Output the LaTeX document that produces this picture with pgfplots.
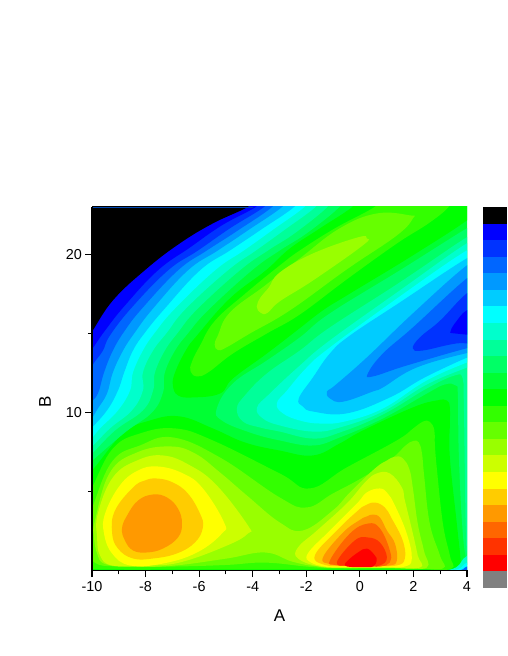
\documentclass[border=0pt]{standalone}
\usepackage{fontspec}
\setmainfont{Liberation Sans}
\usepackage{pgfplots}
\pgfplotsset{compat=1.18}
\definecolor{kK}{HTML}{000000}
\definecolor{bA}{HTML}{0000FF}
\definecolor{bB}{HTML}{0033FF}
\definecolor{bC}{HTML}{0066FF}
\definecolor{bD}{HTML}{0099FF}
\definecolor{bE}{HTML}{00CCFF}
\definecolor{cA}{HTML}{00FFFF}
\definecolor{cB}{HTML}{00FFCC}
\definecolor{cC}{HTML}{00FF99}
\definecolor{cD}{HTML}{00FF66}
\definecolor{cE}{HTML}{00FF33}
\definecolor{gA}{HTML}{00FF00}
\definecolor{gB}{HTML}{33FF00}
\definecolor{gC}{HTML}{66FF00}
\definecolor{gD}{HTML}{99FF00}
\definecolor{gE}{HTML}{CCFF00}
\definecolor{yA}{HTML}{FFFF00}
\definecolor{yB}{HTML}{FFCC00}
\definecolor{yC}{HTML}{FF9900}
\definecolor{yD}{HTML}{FF6600}
\definecolor{yE}{HTML}{FF3300}
\definecolor{rA}{HTML}{FF0000}
\definecolor{nG}{HTML}{808080}
\newcommand\R[2]{\addplot[fill=#1,draw=none,smooth cycle,tension=0.7] coordinates {#2};}
\newcommand\B[3]{\addplot[fill=#1,draw=none] coordinates {(0,#2)(1,#2)(1,#3)(0,#3)};}
\begin{document}
\begin{tikzpicture}
\path[use as bounding box] (0,0) rectangle (507pt,656pt);
\begin{axis}[
  at={(92pt,85.5pt)},anchor=south west,scale only axis,width=375pt,height=363.5pt,
  xmin=-10,xmax=4,ymin=0,ymax=23,
  axis lines=left,axis line style={-,line width=1.2pt,black},
  axis on top,tick align=outside,
  xtick={-10,-8,-6,-4,-2,0,2,4},xticklabels={-10,-8,-6,-4,-2,0,2,4},
  minor xtick={-9,-7,-5,-3,-1,1,3},
  ytick={10,20},yticklabels={10,20},minor ytick={5,15},
  major tick length=6.5pt,minor tick length=4pt,
  tick style={line width=1.1pt,black},
  tick label style={font=\fontsize{14.4}{16}\selectfont},
  xticklabel style={yshift=-1pt},
  xlabel={A},ylabel={B},
  label style={font=\fontsize{17}{20}\selectfont},
  xlabel style={at={(axis description cs:0.5,0)},anchor=center,yshift=-45pt},
  ylabel style={at={(axis description cs:0,0.465)},anchor=center,rotate=0,yshift=47pt},
]
% base level
\addplot[fill=cE,draw=none] coordinates {(-10.5,-0.5)(4.5,-0.5)(4.5,23.5)(-10.5,23.5)};
% upper ridge
\R{gA}{(-0.22,23.1)(-1.49,21.65)(-2.61,20.38)(-3.51,18.99)(-4.85,17.22)(-6.08,14.87)(-6.50,13.92)(-6.90,12.53)(-6.98,11.71)(-6.79,11.08)(-6.23,10.95)(-5.22,11.20)(-4.74,12.15)(-3.47,13.73)(-2.35,15.19)(-1.38,16.46)(-0.49,17.40)(1.98,19.94)(4.10,22.28)(4.48,23.1)(4.48,23.7)(-0.22,23.7)}
\R{gB}{(0.63,23.1)(-0.93,21.65)(-2.24,20.25)(-2.99,19.30)(-4.29,17.50)(-5.41,15.80)(-5.97,14.22)(-6.27,13.2)(-6.32,12.6)(-6.08,12.28)(-5.65,12.55)(-4.74,13.73)(-3.47,15.0)(-2.24,16.20)(-0.49,18.42)(1.38,20.69)(2.61,22.02)(3.36,23.1)(3.36,23.7)(0.63,23.7)}
\R{gC}{(1.98,22.28)(1.87,22.47)(0.63,22.59)(-0.75,21.65)(-2.24,19.75)(-3.54,18.03)(-4.85,16.33)(-5.30,14.87)(-5.42,14.3)(-5.3,13.95)(-5.0,14.1)(-4.10,15.0)(-2.61,16.46)(-0.49,19.05)(1.38,21.20)}
\R{gD}{(-3.45,16.3)(-3.7,16.3)(-3.85,16.7)(-3.7,17.3)(-3.4,17.9)(-2.99,18.86)(-1.75,20.06)(-0.07,21.08)(0.26,21.01)(0.11,20.57)(-1.75,18.35)(-2.99,17.03)}
% lower hills
\R{gA}{(-10.45,5.82)(-10.0,6.33)(-8.84,8.67)(-7.84,9.49)(-6.72,9.75)(-5.49,8.99)(-4.29,8.10)(-2.99,7.59)(-1.75,7.28)(-0.75,8.04)(0.11,8.86)(1.98,10.32)(2.87,10.76)(3.25,10.76)(3.36,10.32)(3.36,9.30)(3.36,7.15)(3.62,2.97)(3.77,0.51)(3.75,-0.2)(3,-0.3)(1,-0.3)(-1,-0.3)(-3,-0.3)(-5,-0.3)(-7,-0.3)(-9,-0.3)(-10.4,-0.3)(-10.5,1)(-10.5,3)}
\R{gB}{(-10.15,4.75)(-9.96,5.38)(-9.22,7.72)(-8.21,8.67)(-6.90,8.99)(-5.49,8.23)(-2.99,6.14)(-1.87,5.19)(-0.49,6.52)(1.38,8.23)(2.0,9.0)(2.35,9.42)(2.6,9.42)(2.78,8.9)(2.8,8.0)(2.87,6.52)(3.10,2.97)(3.36,0.95)(3.43,0.13)(2.5,0.07)(1,0.07)(-1,0.07)(-3,0.07)(-5,0.07)(-7,0.07)(-9,0.07)(-10.15,0.2)(-10.3,1)(-10.3,3)}
\R{gC}{(-10.04,3.29)(-9.89,4.43)(-9.22,6.96)(-8.21,7.91)(-6.98,8.42)(-5.22,7.15)(-2.99,4.62)(-1.98,3.99)(-1.01,4.87)(0.11,5.89)(1.2,7.1)(1.7,7.9)(2.0,8.2)(2.2,8.1)(2.32,7.4)(2.4,6.0)(2.61,2.97)(2.99,0.95)(3.10,0.13)(2,0.15)(1,0.15)(-1,0.15)(-2,0.25)(-3.54,0.5)(-5,0.35)(-7,0.25)(-9,0.25)(-9.9,0.5)(-10.1,1.5)}
\R{gD}{(-9.81,1.08)(-9.93,2.22)(-9.89,3.16)(-9.33,6.2)(-8.32,7.47)(-7.09,7.85)(-6.16,7.41)(-5.22,6.20)(-4.22,4.75)(-2.99,3.04)(-2.13,2.53)(-1.01,3.80)(-0.37,4.94)(0.56,6.45)(1.0,6.95)(1.3,7.2)(1.6,7.1)(1.85,6.4)(1.98,5.2)(2.16,2.97)(2.39,1.27)(2.50,0.19)(1.5,0.2)(0,0.2)(-1.5,0.25)(-2.5,0.55)(-3.54,1.14)(-5.0,0.75)(-7,0.3)(-8.5,0.25)(-9.5,0.4)}
\R{gE}{(-7.35,7.28)(-6.34,6.65)(-5.34,5.38)(-4.18,2.85)(-4.18,2.34)(-4.96,1.58)(-6.72,0.51)(-8.02,0.32)(-9.25,0.32)(-9.7,0.95)(-9.81,2.09)(-9.78,3.61)(-9.22,5.89)(-8.32,6.96)}
\R{yA}{(-7.54,6.58)(-6.60,6.14)(-5.86,5.19)(-5.07,3.04)(-5.15,2.34)(-6.08,1.14)(-7.35,0.44)(-8.58,0.32)(-9.25,1.08)(-9.55,2.34)(-9.51,3.61)(-8.96,5.38)(-8.28,6.33)}
\R{yB}{(-7.57,5.82)(-6.98,5.57)(-6.42,4.87)(-5.97,3.61)(-5.86,2.72)(-6.16,1.77)(-6.83,1.08)(-7.72,0.76)(-8.47,0.76)(-9.03,1.39)(-9.25,2.40)(-9.14,3.80)(-8.47,5.25)(-8.02,5.70)}
\R{yC}{(-7.72,4.81)(-7.20,4.62)(-6.79,3.92)(-6.64,2.97)(-6.79,2.09)(-7.35,1.39)(-7.95,1.14)(-8.47,1.27)(-8.77,1.90)(-8.88,2.66)(-8.69,3.48)(-8.28,4.43)}
\R{gE}{(-2.31,1.46)(-1.60,2.53)(-0.49,4.24)(0.19,5.57)(0.63,6.14)(1.12,6.14)(1.57,5.25)(1.68,4.43)(1.98,2.34)(2.16,0.95)(2.24,0.19)(1,0.17)(-0.5,0.17)(-1.5,0.25)(-2.31,0.76)}
\R{yA}{(-1.94,1.08)(-1.12,2.53)(-0.11,4.24)(0.26,4.94)(0.75,5.19)(1.04,4.87)(1.31,4.11)(1.75,2.34)(1.94,0.76)(1.68,0.25)(1,0.22)(0,0.22)(-1,0.22)(-1.31,0.25)(-1.83,0.51)}
\R{yB}{(-1.68,0.95)(-0.86,2.53)(-0.1,3.75)(0.19,4.11)(0.56,4.30)(0.93,3.99)(1.19,3.29)(1.60,1.90)(1.68,0.76)(1.38,0.32)(0.5,0.28)(-0.5,0.28)(-1.3,0.35)}
\R{yC}{(-1.38,0.82)(-0.63,2.40)(0.0,3.2)(0.26,3.42)(0.49,3.54)(0.75,3.35)(1.01,2.53)(1.31,1.71)(1.38,0.63)(1.12,0.32)(0.4,0.3)(-0.5,0.3)(-1.1,0.4)}
\R{yD}{(-1.12,0.63)(-0.37,2.34)(0.30,2.97)(0.75,2.66)(1.12,1.27)(1.12,0.51)(0.75,0.25)(0.2,0.28)(-0.5,0.3)(-0.9,0.35)}
\R{yE}{(-0.86,0.51)(-0.19,1.90)(0.30,2.09)(0.75,1.77)(1.01,0.82)(0.75,0.32)(0.2,0.3)(-0.4,0.3)}
\R{rA}{(-0.56,0.32)(-0.45,0.63)(-0.07,1.14)(0.26,1.39)(0.56,0.95)(0.63,0.63)(0.49,0.25)(0.1,0.22)(-0.3,0.22)}
% upper-left lows
\R{cD}{(-0.71,23.1)(-1.94,21.39)(-2.99,20.25)(-4.03,18.99)(-5.67,16.46)(-6.42,15.0)(-6.90,13.92)(-7.28,12.53)(-7.35,11.27)(-7.76,10.0)(-8.77,8.73)(-10.07,6.84)(-10.45,6.33)(-10.45,23.7)(-0.71,23.7)}
\R{cC}{(-1.16,23.1)(-2.39,21.39)(-3.43,20.25)(-4.48,18.99)(-6.08,16.52)(-6.79,15.06)(-7.28,13.92)(-7.65,12.53)(-7.72,11.39)(-8.10,10.13)(-9.14,8.86)(-10.07,7.28)(-10.45,6.84)(-10.45,23.7)(-1.16,23.7)}
\R{cB}{(-1.60,23.1)(-2.84,21.52)(-3.88,20.25)(-4.93,18.99)(-6.49,16.58)(-7.20,15.06)(-7.72,13.92)(-8.10,12.53)(-8.10,11.39)(-8.51,10.13)(-9.33,8.99)(-10.07,7.72)(-10.45,7.28)(-10.45,23.7)(-1.60,23.7)}
\R{cA}{(-2.01,23.1)(-3.28,21.52)(-4.33,20.25)(-5.41,18.99)(-6.90,16.58)(-7.65,15.06)(-8.10,13.92)(-8.47,12.53)(-8.58,11.39)(-9.03,10.13)(-9.70,8.99)(-10.07,8.23)(-10.45,7.59)(-10.45,23.7)(-2.01,23.7)}
\R{bE}{(-2.39,23.1)(-3.73,21.52)(-4.85,20.25)(-5.97,18.99)(-7.28,16.58)(-8.02,15.06)(-8.47,13.92)(-8.80,12.53)(-9.03,11.39)(-9.44,10.13)(-10.07,8.92)(-10.45,8.23)(-10.45,23.7)(-2.39,23.7)}
\R{bD}{(-2.84,23.1)(-4.18,21.52)(-5.30,20.25)(-6.42,18.99)(-7.72,16.58)(-8.40,15.06)(-8.84,13.92)(-9.22,12.53)(-9.44,11.20)(-9.78,10.25)(-10.07,9.49)(-10.45,8.86)(-10.45,23.7)(-2.84,23.7)}
\R{bC}{(-3.21,23.1)(-4.55,21.52)(-5.71,20.25)(-6.79,18.99)(-8.13,16.58)(-8.77,15.19)(-9.22,13.92)(-9.55,12.53)(-9.78,11.20)(-10.07,10.63)(-10.45,10.13)(-10.45,23.7)(-3.21,23.7)}
\R{bB}{(-3.51,23.1)(-4.85,21.65)(-6.04,20.25)(-7.16,18.99)(-8.51,16.65)(-9.33,14.87)(-9.59,13.92)(-9.89,13.23)(-10.07,12.78)(-10.45,12.03)(-10.45,23.7)(-3.51,23.7)}
\R{bA}{(-3.81,23.1)(-5.15,21.84)(-6.34,20.44)(-7.54,18.99)(-8.77,16.77)(-9.51,15.19)(-10.07,13.86)(-10.45,13.29)(-10.45,23.7)(-3.81,23.7)}
\R{kK}{(-4.10,23.1)(-5.49,21.96)(-6.72,20.70)(-7.95,19.11)(-9.22,17.09)(-10.07,14.94)(-10.45,14.24)(-10.45,23.7)(-4.10,23.7)}
% valley on the right
\R{cD}{(4.48,22.03)(3.99,21.65)(1.49,18.99)(-1.12,16.27)(-2.24,14.75)(-3.47,13.29)(-4.74,11.84)(-5.34,10.25)(-5.15,9.49)(-4.10,8.73)(-2.99,8.23)(-1.75,7.91)(-0.75,8.42)(0.86,9.62)(2.50,11.20)(3.17,11.77)(3.58,11.71)(3.66,11.08)(3.69,7.59)(3.81,3.16)(3.96,0.76)(4.18,-0.13)(4.66,-0.32)(4.66,10)}
\R{cC}{(4.66,21.52)(3.99,21.08)(1.49,18.23)(-1.12,15.38)(-2.24,13.92)(-3.47,12.47)(-4.29,11.08)(-4.59,10.25)(-4.37,9.43)(-3.73,9.05)(-2.99,8.79)(-1.75,8.35)(-0.75,8.73)(0.86,9.87)(2.50,11.52)(3.54,12.34)(3.84,12.15)(3.88,10.76)(3.92,6.33)(3.96,2.53)(4.07,0.63)(4.66,-0.32)(4.66,10)}
\R{cB}{(4.66,21.08)(3.99,20.70)(1.49,17.72)(-1.12,14.56)(-2.24,12.97)(-3.36,11.20)(-3.84,10.30)(-3.62,9.62)(-2.99,9.18)(-1.75,8.79)(-0.75,9.05)(0.86,10.06)(2.50,11.77)(4.10,12.91)(4.66,13.29)(5,17)}
\R{cA}{(4.66,20.57)(3.99,20.25)(1.49,17.34)(-1.12,14.11)(-1.98,12.85)(-2.72,11.39)(-3.10,10.57)(-2.87,9.94)(-2.24,9.49)(-1.49,9.30)(-0.56,9.43)(0.86,10.25)(2.50,12.03)(4.10,13.23)(4.66,13.54)(5,17)}
\R{bE}{(4.66,20.13)(3.99,19.75)(1.49,16.96)(-0.37,14.87)(-1.12,13.73)(-1.75,12.22)(-2.28,10.89)(-2.13,10.38)(-1.75,10.06)(-0.49,9.94)(1.12,10.95)(2.43,12.22)(4.10,13.54)(4.66,13.80)(5,17)}
\R{bD}{(4.66,19.75)(3.99,19.30)(1.98,16.27)(0.26,13.48)(-0.93,11.71)(-1.23,11.33)(-1.12,10.89)(-0.63,10.68)(0.49,11.33)(0.86,11.58)(2.13,12.85)(4.10,13.80)(4.66,13.92)(5,17)}
\R{bC}{(4.66,18.99)(3.99,18.48)(1.98,15.38)(0.86,13.73)(0.30,12.47)(0.49,12.28)(1.75,12.97)(4.10,14.11)(4.66,14.24)(5,17)}
\R{bB}{(4.66,18.03)(3.99,17.53)(2.99,15.80)(2.24,14.75)(1.98,14.05)(2.35,13.92)(3.62,14.37)(4.66,14.43)(5,16)}
\R{bA}{(4.66,16.90)(3.99,16.46)(3.62,15.80)(3.40,15.19)(3.54,15.0)(4.66,15.0)(5,16)}
% lower right corner
\R{cB}{(3.0,-0.1)(3.6,0.2)(3.98,0.9)(4.66,1.2)(4.66,-0.4)(3.8,-0.4)(3.0,-0.4)}
\R{cA}{(3.3,-0.1)(3.75,0.15)(4.0,0.5)(4.66,0.8)(4.66,-0.4)(4.0,-0.4)(3.3,-0.4)}
\R{bC}{(3.6,-0.1)(3.85,0.08)(4.0,0.25)(4.5,0.4)(4.6,-0.4)(4.1,-0.4)(3.6,-0.4)}
\addplot[draw=bC!70!black,line width=0.7pt] coordinates {(-10,23)(-4,23)};
\end{axis}
\begin{axis}[
  at={(483pt,68pt)},anchor=south west,scale only axis,width=24pt,height=381pt,
  xmin=0,xmax=1,ymin=0,ymax=23,hide axis]
\B{nG}{0}{1}\B{rA}{1}{2}\B{yE}{2}{3}\B{yD}{3}{4}\B{yC}{4}{5}\B{yB}{5}{6}
\B{yA}{6}{7}\B{gE}{7}{8}\B{gD}{8}{9}\B{gC}{9}{10}\B{gB}{10}{11}\B{gA}{11}{12}
\B{cE}{12}{13}\B{cD}{13}{14}\B{cC}{14}{15}\B{cB}{15}{16}\B{cA}{16}{17}\B{bE}{17}{18}
\B{bD}{18}{19}\B{bC}{19}{20}\B{bB}{20}{21}\B{bA}{21}{22}\B{kK}{22}{23}
\end{axis}
\end{tikzpicture}
\end{document}
